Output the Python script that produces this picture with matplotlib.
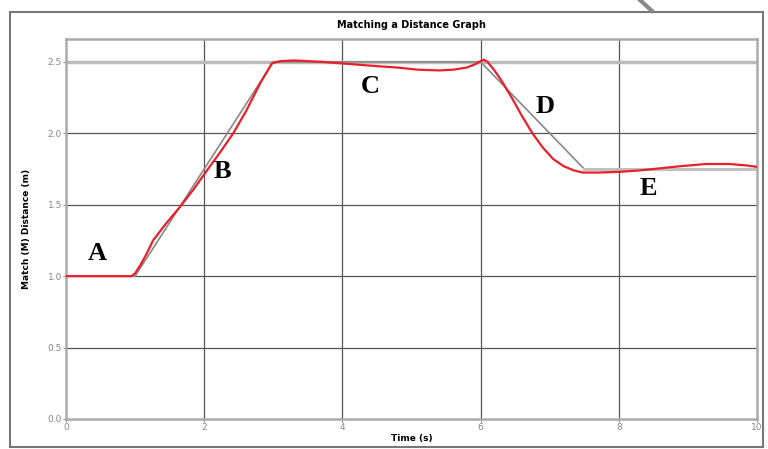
import matplotlib.pyplot as plt
from matplotlib.patches import Rectangle
from matplotlib.lines import Line2D

# target (gray) distance graph
target_t = [0, 1, 3, 6, 7.5, 10]
target_d = [1.0, 1.0, 2.5, 2.5, 1.75, 1.75]

# measured (red) motion
meas_t = [0, 0.5, 0.95, 1.0, 1.08, 1.16, 1.26, 1.45, 1.65, 1.85, 2.04, 2.25, 2.42, 2.6,
          2.81, 2.92, 2.98, 3.1, 3.3, 3.7, 4.1, 4.5, 4.8, 5.1, 5.4, 5.6, 5.8, 5.93, 6.0,
          6.05, 6.1, 6.2, 6.3, 6.45, 6.6, 6.75, 6.9, 7.05, 7.2, 7.35, 7.48, 7.7, 8.0,
          8.3, 8.6, 8.9, 9.26, 9.6, 9.85, 10]
meas_d = [1.0, 1.0, 1.0, 1.02, 1.08, 1.15, 1.25, 1.37, 1.485, 1.61, 1.74, 1.88, 2.0,
          2.15, 2.35, 2.44, 2.49, 2.505, 2.51, 2.5, 2.485, 2.47, 2.46, 2.445, 2.44, 2.445,
          2.46, 2.485, 2.505, 2.515, 2.5, 2.44, 2.37, 2.25, 2.12, 2.0, 1.9, 1.82, 1.77,
          1.74, 1.725, 1.725, 1.73, 1.74, 1.755, 1.77, 1.785, 1.785, 1.775, 1.765]

labels = ['A', 'B', 'C', 'D', 'E']
label_t = [0.45, 2.27, 4.4, 6.93, 8.42]
label_d = [1.16, 1.73, 2.33, 2.19, 1.61]

fig = plt.figure(figsize=(7.68, 4.49), dpi=100)

# outer frame + stray stroke at the top
fig.add_artist(Rectangle((10/768, 2/449), 753/768, 435/449, transform=fig.transFigure,
                         fill=False, edgecolor='#777777', lw=1.5))
fig.add_artist(Line2D([640/768, 652/768], [1.0, 438/449], transform=fig.transFigure,
                      color='#888888', lw=3))

ax = fig.add_axes([66/768, 30/449, 691/768, 380/449])
ax.set_xlim(0, 10)
ax.set_ylim(0, 2.66)
ax.set_xticks([0, 2, 4, 6, 8, 10])
ax.set_yticks([0.0, 0.5, 1.0, 1.5, 2.0, 2.5])
ax.set_yticklabels(['0.0', '0.5', '1.0', '1.5', '2.0', '2.5'])
ax.tick_params(labelsize=6.5, labelcolor='#888888', length=2, color='#888888', pad=1)
for s in ax.spines.values():
    s.set_color('#aaaaaa')
    s.set_linewidth(1.8)

for x in [2, 4, 6, 8]:
    ax.axvline(x, color='#555555', lw=0.9, zorder=1)
for y in [0.5, 1.0, 1.5, 2.0]:
    ax.axhline(y, color='#555555', lw=0.9, zorder=1)
ax.axhline(2.5, color='#bbbbbb', lw=2.5, zorder=1)

ax.plot(target_t, target_d, color='#888888', lw=1.2, zorder=2)
ax.plot(target_t[-2:], target_d[-2:], color='#c0c0c0', lw=2.2, zorder=2)
ax.plot(meas_t, meas_d, color='#e8202a', lw=1.6, zorder=3)

for lab, tx, ty in zip(labels, label_t, label_d):
    ax.text(tx, ty, lab, fontsize=19, fontweight='bold', family='Liberation Serif',
            ha='center', va='center', zorder=4)

ax.set_title('Matching a Distance Graph', fontsize=7, fontweight='bold', pad=8)
ax.set_xlabel('Time (s)', fontsize=6.5, fontweight='bold', labelpad=1)
ax.set_ylabel('Match (M) Distance (m)', fontsize=6.5, fontweight='bold', labelpad=12)

fig.savefig('out.png', dpi=100)
